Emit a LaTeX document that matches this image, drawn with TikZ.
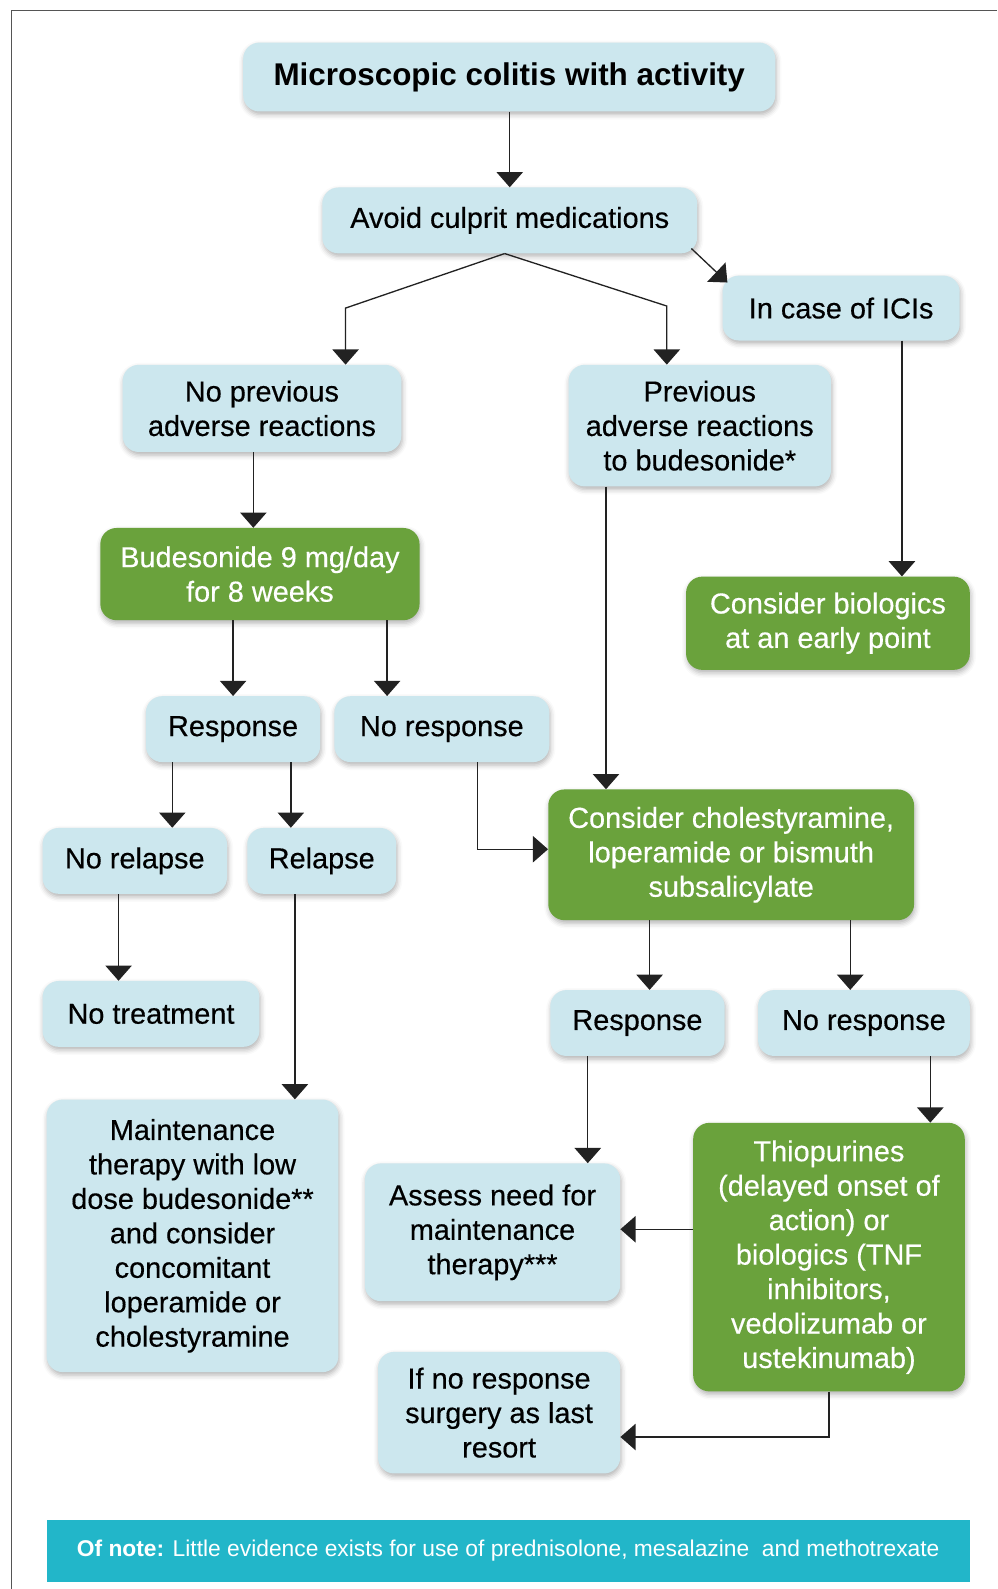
\documentclass[tikz,border=0pt]{standalone}
\usepackage{fontspec}
\setmainfont{Liberation Sans}[UprightFeatures={FakeBold=0.4}]
\newfontfamily\notefont{Liberation Sans}
\usetikzlibrary{arrows.meta,shadows.blur,calc}
\definecolor{lb}{HTML}{CCE7EE}
\definecolor{gr}{HTML}{6AA23C}
\definecolor{notecol}{HTML}{22B6C9}
\definecolor{lncol}{HTML}{222222}
\definecolor{framecol}{HTML}{555555}
\tikzset{
 box/.style={rounded corners=16pt, fill=lb, align=center, inner sep=0pt,
   font=\fontsize{28.5}{34}\selectfont,
   blur shadow={shadow xshift=1pt, shadow yshift=-3pt, shadow blur radius=5pt, shadow opacity=30}},
 gbox/.style={box, fill=gr, text=white},
 arr/.style={draw=lncol, line width=1.3pt, -{Triangle[width=26pt,length=15pt]}},
}
\begin{document}
\begin{tikzpicture}[x=1pt,y=-1pt]
\useasboundingbox (0,0) rectangle (984,1568);
\draw[framecol, line width=1.2pt] (11,1568) -- (11,10) -- (984,10);

\node[box, minimum width=525pt, minimum height=68pt, font=\fontsize{31}{34}\selectfont\bfseries] (title) at (502.5,76) {Microscopic colitis with activity};
\node[box, minimum width=370pt, minimum height=65pt] (avoid) at (503,217.5) {Avoid culprit medications};
\node[box, minimum width=234pt, minimum height=64pt] (ici) at (830,304) {In case of ICIs};
\node[box, minimum width=275pt, minimum height=86pt] (noprev) at (258.5,403) {No previous\\adverse reactions};
\node[box, minimum width=259pt, minimum height=120pt] (prev) at (690.5,420) {Previous\\adverse reactions\\to budesonide*};
\node[gbox, minimum width=315pt, minimum height=91pt] (bud) at (256.5,566.5) {Budesonide 9 mg/day\\for 8 weeks};
\node[gbox, minimum width=280pt, minimum height=92pt] (bio) at (817,615) {Consider biologics\\at an early point};
\node[box, minimum width=172pt, minimum height=65pt] (resp1) at (230,719.5) {Response};
\node[box, minimum width=212pt, minimum height=65pt] (noresp1) at (436,719.5) {No response};
\node[box, minimum width=182pt, minimum height=65pt] (norel) at (133,849.5) {No relapse};
\node[box, minimum width=147pt, minimum height=65pt] (rel) at (317.5,849.5) {Relapse};
\node[gbox, minimum width=361pt, minimum height=129pt] (chol) at (721.5,843.5) {Consider cholestyramine,\\loperamide or bismuth\\subsalicylate};
\node[box, minimum width=214pt, minimum height=65pt] (notreat) at (149,1000.5) {No treatment};
\node[box, minimum width=172pt, minimum height=65pt] (resp2) at (629,1009.5) {Response};
\node[box, minimum width=209pt, minimum height=65pt] (noresp2) at (852.5,1009.5) {No response};
\node[box, minimum width=288pt, minimum height=269pt] (maint) at (190,1219.5) {Maintenance\\therapy with low\\dose budesonide**\\and consider\\concomitant\\loperamide or\\cholestyramine};
\node[box, minimum width=252pt, minimum height=136pt] (assess) at (486,1216) {Assess need for\\maintenance\\therapy***};
\node[gbox, minimum width=268pt, minimum height=265pt] (thio) at (818,1240.5) {Thiopurines\\(delayed onset of\\action) or\\biologics (TNF\\inhibitors,\\vedolizumab or\\ustekinumab)};
\node[box, minimum width=239pt, minimum height=120pt] (surg) at (492.5,1394) {If no response\\surgery as last\\resort};
\node[fill=notecol, text=white, minimum width=911pt, minimum height=61pt, inner sep=0pt, font=\notefont\fontsize{22.5}{26}\selectfont] (note) at (501.5,1530.5) {\textbf{Of note:} Little evidence exists for use of prednisolone, mesalazine\ \ and methotrexate};

\draw[arr] (title.south -| 503,0) -- (avoid.north -| 503,0);
\draw[arr] (avoid.south -| 498,0) -- (341,304) -- (noprev.north -| 341,0);
\draw[arr] (avoid.south -| 498,0) -- (658,302) -- (prev.north -| 658,0);
\draw[arr] ([shift={(-6,-5)}]avoid.south east) -- ([shift={(5,7)}]ici.north west);
\draw[arr] (ici.south -| 890,0) -- (bio.north -| 890,0);
\draw[arr] (noprev.south -| 250,0) -- (bud.north -| 250,0);
\draw[arr] (prev.south -| 598,0) -- (chol.north -| 598,0);
\draw[arr] (bud.south -| 230,0) -- (resp1.north -| 230,0);
\draw[arr] (bud.south -| 382,0) -- (noresp1.north -| 382,0);
\draw[arr] (resp1.south -| 170,0) -- (norel.north -| 170,0);
\draw[arr] (resp1.south -| 287,0) -- (rel.north -| 287,0);
\draw[arr] (norel.south -| 117,0) -- (notreat.north -| 117,0);
\draw[arr] (rel.south -| 291,0) -- (maint.north -| 291,0);
\draw[arr] (noresp1.south -| 471,0) -- (471,838) -- (chol.west |- 0,838);
\draw[arr] (chol.south -| 641,0) -- (resp2.north -| 641,0);
\draw[arr] (chol.south -| 839,0) -- (noresp2.north -| 839,0);
\draw[arr] (resp2.south -| 580,0) -- (assess.north -| 580,0);
\draw[arr] (noresp2.south -| 918,0) -- (thio.north -| 918,0);
\draw[arr] (thio.west |- 0,1213) -- (assess.east |- 0,1213);
\draw[arr] (thio.south -| 818,0) -- (818,1418) -- (surg.east |- 0,1418);
\end{tikzpicture}
\end{document}
